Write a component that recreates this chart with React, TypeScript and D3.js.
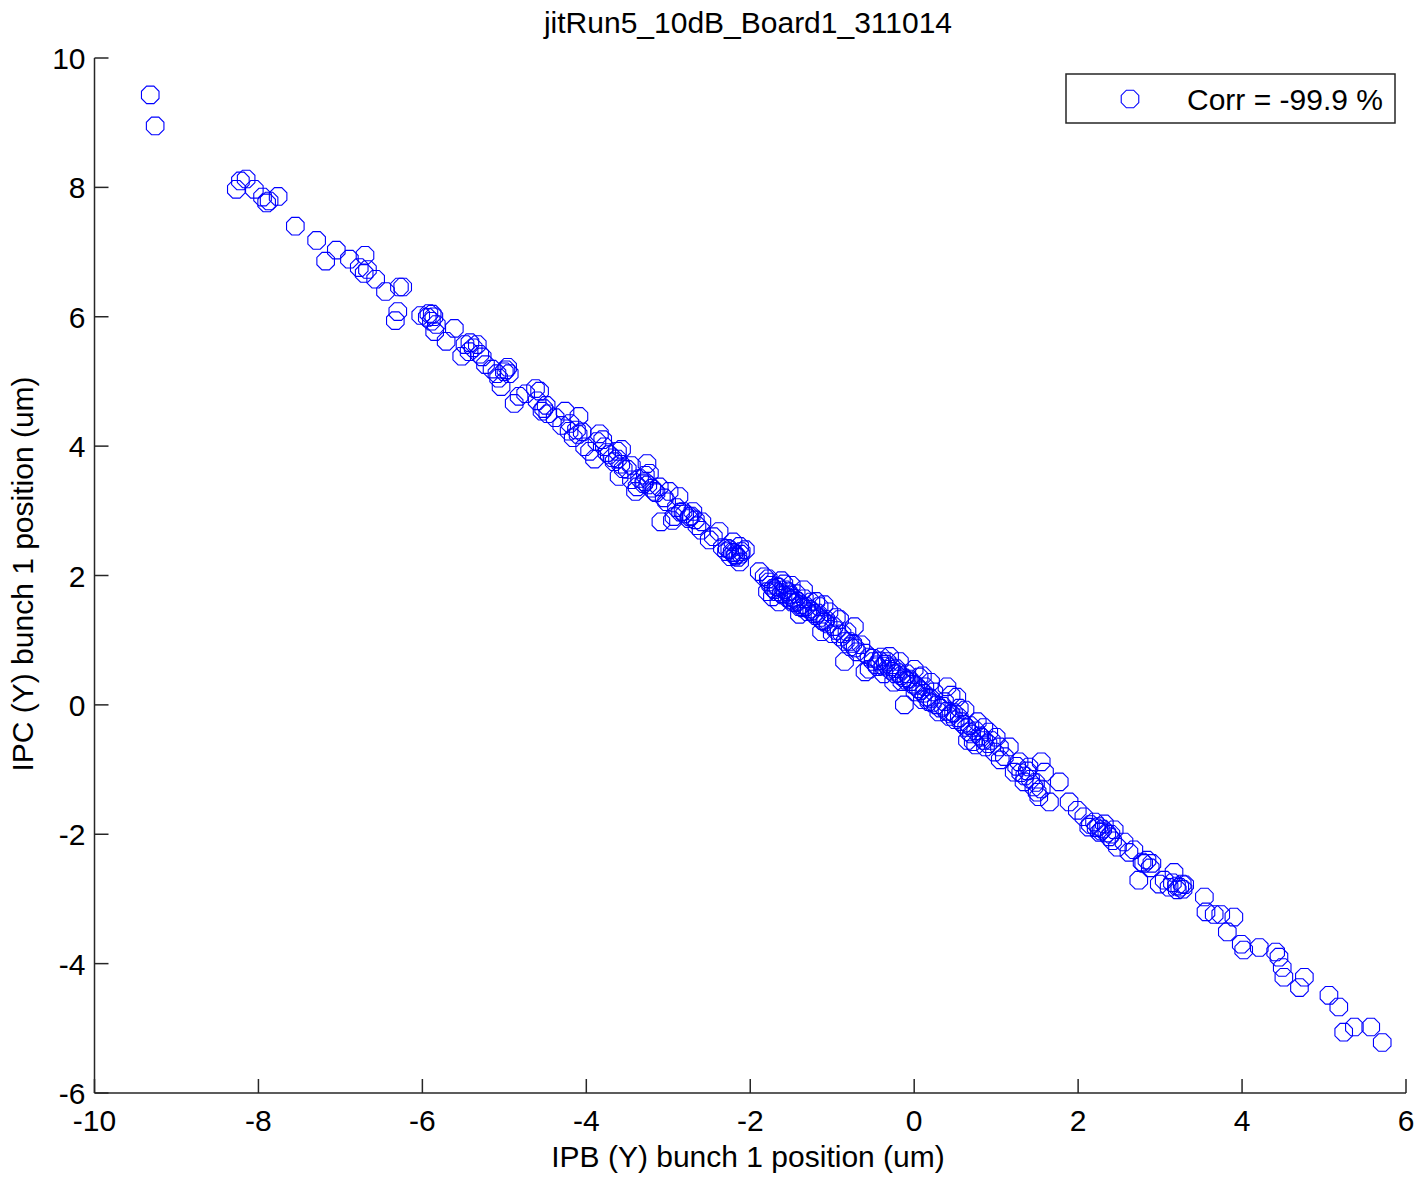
import React from "react";
import * as d3 from "d3";

// IPB vs IPC vertical bunch-1 position pairs, in microns: [IPB, IPC]
const bunch1Positions: [number, number][] = [
  [-9.32, 9.43], [-9.26, 8.95],
  [-8.27, 7.97], [-8.22, 8.1], [-8.15, 8.13], [-8.05, 7.97], [-7.95, 7.85], [-7.9, 7.76],
  [-7.87, 7.79], [-7.76, 7.86], [-7.55, 7.4], [-7.29, 7.18], [-7.18, 6.86], [-7.05, 7.03],
  [-6.89, 6.89], [-6.77, 6.76], [-6.7, 6.95], [-6.71, 6.67], [-6.67, 6.73], [-6.57, 6.58],
  [-6.45, 6.39], [-6.33, 5.94], [-6.3, 6.08], [-6.28, 6.46], [-6.24, 6.46],
  [-6.02, 6.02], [-5.94, 5.99], [-5.89, 5.93], [-5.85, 5.77], [-5.88, 6.04], [-5.92, 6.05],
  [-5.86, 6.0], [-5.83, 5.88], [-5.71, 5.62], [-5.61, 5.82], [-5.52, 5.39], [-5.48, 5.57],
  [-5.43, 5.46], [-5.33, 5.57], [-5.38, 5.52], [-5.3, 5.42], [-5.27, 5.38], [-5.42, 5.6],
  [-5.23, 5.26], [-5.15, 5.19], [-5.09, 5.12], [-5.04, 4.92], [-4.96, 5.22], [-4.94, 5.12],
  [-5.0, 5.15], [-5.07, 5.05], [-4.98, 5.18], [-4.88, 4.66], [-4.82, 4.77], [-4.74, 4.81],
  [-4.62, 4.89], [-4.57, 4.85], [-4.54, 4.54], [-4.49, 4.63], [-4.6, 4.7], [-4.52, 4.58],
  [-4.47, 4.5], [-4.38, 4.44], [-4.3, 4.32], [-4.26, 4.54], [-4.21, 4.23], [-4.16, 4.13],
  [-4.09, 4.46], [-4.2, 4.35], [-4.12, 4.25], [-4.1, 4.18], [-4.05, 4.22], [-4.02, 3.99],
  [-3.96, 3.92], [-3.87, 4.07], [-3.84, 4.19], [-3.78, 3.99], [-3.72, 3.87], [-3.66, 3.76],
  [-3.62, 3.92], [-3.57, 3.95], [-3.6, 3.53], [-3.75, 3.9], [-3.68, 3.82], [-3.62, 3.8],
  [-3.58, 3.72], [-3.55, 3.65], [-3.5, 3.64], [-3.45, 3.48], [-3.38, 3.37], [-3.29, 3.45],
  [-3.26, 3.73], [-3.23, 3.58], [-3.17, 3.3], [-3.11, 3.37], [-3.09, 2.83], [-3.35, 3.5],
  [-3.3, 3.42], [-3.25, 3.4], [-3.2, 3.35], [-3.28, 3.55], [-3.15, 3.28], [-3.02, 3.14],
  [-2.99, 3.3], [-2.93, 2.91], [-2.87, 3.22], [-2.82, 2.99], [-2.74, 2.91], [-2.7, 2.99],
  [-2.67, 2.86], [-2.65, 2.77], [-2.59, 2.83], [-2.9, 3.05], [-2.85, 2.98], [-2.8, 2.95],
  [-2.75, 2.88], [-2.72, 2.92], [-2.5, 2.55], [-2.38, 2.68], [-2.34, 2.43], [-2.29, 2.37],
  [-2.24, 2.29], [-2.21, 2.52], [-2.18, 2.32], [-2.13, 2.21], [-2.11, 2.37], [-2.06, 2.4],
  [-2.13, 2.45], [-2.25, 2.4], [-2.2, 2.35], [-2.18, 2.3], [-2.15, 2.28], [-2.22, 2.36],
  [-2.12, 2.33], [-2.28, 2.42],
  [-3.9, 3.8], [-3.8, 4.1], [-3.45, 3.7], [-3.4, 3.3], [-3.05, 3.2], [-2.95, 2.85],
  [-2.6, 2.7], [-2.45, 2.6],
  [-1.89, 2.06], [-1.83, 1.98], [-1.79, 1.75], [-1.77, 1.9], [-1.73, 1.67], [-1.68, 1.83],
  [-1.65, 1.59], [-1.59, 1.87], [-1.54, 1.75], [-1.49, 1.59], [-1.44, 1.72], [-1.4, 1.52],
  [-1.34, 1.64], [-1.3, 1.44], [-1.26, 1.59], [-1.22, 1.41], [-1.16, 1.52], [-1.13, 1.13],
  [-1.09, 1.28], [-1.04, 1.44], [-0.98, 1.21], [-0.91, 1.32], [-0.85, 0.67], [-0.82, 1.13],
  [-0.79, 0.98], [-0.73, 1.21], [-0.7, 0.82], [-0.65, 0.93], [-0.6, 0.51], [-0.55, 0.74],
  [-1.75, 1.85], [-1.72, 1.8], [-1.7, 1.78], [-1.68, 1.75], [-1.66, 1.82], [-1.62, 1.72],
  [-1.6, 1.7], [-1.58, 1.78], [-1.55, 1.66], [-1.52, 1.7], [-1.5, 1.62], [-1.47, 1.65],
  [-1.45, 1.58], [-1.42, 1.6], [-1.38, 1.55], [-1.36, 1.5], [-1.32, 1.52], [-1.28, 1.48],
  [-1.25, 1.45], [-1.2, 1.38], [-1.18, 1.42], [-1.15, 1.35], [-1.12, 1.3], [-1.08, 1.32],
  [-1.05, 1.25], [-0.95, 1.15], [-0.9, 1.05], [-0.88, 1.1], [-0.84, 0.98], [-0.78, 0.9],
  [-0.75, 0.95], [-0.72, 0.88],
  [-1.78, 1.95], [-1.62, 1.92], [-1.5, 1.85], [-1.35, 1.78], [-1.4, 1.4], [-1.2, 1.6],
  [-1.1, 1.55], [-1.0, 1.1], [-0.95, 1.35], [-0.6, 0.8], [-0.55, 0.55], [-0.3, 0.75],
  [-0.25, 0.35], [0.0, 0.55], [0.1, 0.45], [0.2, 0.35], [0.45, 0.15], [0.55, -0.05],
  [0.65, -0.55], [0.75, -0.62], [0.85, -0.35], [1.0, -0.5], [1.05, -0.85],
  [-0.5, 0.67], [-0.45, 0.59], [-0.4, 0.74], [-0.37, 0.48], [-0.33, 0.67], [-0.28, 0.59],
  [-0.23, 0.48], [-0.18, 0.67], [-0.15, 0.36], [-0.12, 0.0], [-0.09, 0.48], [-0.04, 0.36],
  [0.01, 0.2], [0.06, 0.43], [0.1, 0.08], [0.13, 0.28], [0.18, 0.05], [0.24, 0.2],
  [0.3, -0.11], [0.37, 0.05], [0.4, 0.28], [0.45, -0.14], [0.5, -0.23], [0.52, 0.12],
  [0.57, -0.26], [0.62, -0.08], [0.67, -0.42], [0.72, -0.57], [0.77, -0.26], [0.82, -0.5],
  [0.87, -0.65], [0.91, -0.42], [0.98, -0.73], [1.04, -0.65], [1.1, -0.8], [1.16, -0.65],
  [-0.5, 0.72], [-0.46, 0.62], [-0.42, 0.68], [-0.38, 0.6], [-0.35, 0.63], [-0.3, 0.55],
  [-0.27, 0.52], [-0.22, 0.56], [-0.2, 0.5], [-0.16, 0.45], [-0.12, 0.42], [-0.1, 0.38],
  [-0.06, 0.4], [-0.02, 0.32], [0.02, 0.3], [0.05, 0.25], [0.08, 0.22], [0.12, 0.18],
  [0.15, 0.12], [0.2, 0.1], [0.22, 0.03], [0.27, 0.0], [0.32, -0.05], [0.35, -0.02],
  [0.4, -0.1], [0.43, -0.18], [0.48, -0.12], [0.55, -0.2], [0.6, -0.3], [0.64, -0.35],
  [0.68, -0.32], [0.7, -0.45], [0.75, -0.4], [0.8, -0.48], [0.85, -0.55], [0.9, -0.6],
  [0.94, -0.55],
  [1.22, -1.04], [1.28, -0.88], [1.34, -1.19], [1.4, -0.96], [1.46, -1.27], [1.52, -1.42],
  [1.55, -0.88], [1.59, -1.04], [1.65, -1.5], [1.77, -1.19], [1.89, -1.5], [1.99, -1.63],
  [1.25, -0.95], [1.3, -1.05], [1.35, -1.1], [1.38, -1.02], [1.42, -1.15], [1.48, -1.2],
  [1.5, -1.35], [1.55, -1.3],
  [2.07, -1.73], [2.13, -1.89], [2.2, -1.81], [2.26, -1.97], [2.32, -1.84], [2.38, -2.04],
  [2.44, -1.93], [2.48, -2.2], [2.56, -2.12], [2.62, -2.28], [2.68, -2.24], [2.74, -2.71],
  [2.78, -2.43], [2.84, -2.4], [2.15, -1.85], [2.22, -1.9], [2.25, -1.88], [2.28, -1.95],
  [2.3, -1.92], [2.35, -1.98], [2.4, -2.0], [2.42, -2.1], [2.8, -2.45], [2.88, -2.52],
  [2.9, -2.45],
  [2.99, -2.77], [3.05, -2.71], [3.11, -2.82], [3.17, -2.59], [3.21, -2.86], [3.27, -2.77],
  [3.15, -2.75], [3.2, -2.8], [3.24, -2.82], [3.28, -2.85], [3.3, -2.78],
  [3.54, -2.97], [3.56, -3.2], [3.66, -3.24], [3.74, -3.24], [3.82, -3.51], [3.9, -3.28],
  [3.99, -3.7], [4.02, -3.79], [4.21, -3.75], [4.41, -3.82], [4.45, -3.9], [4.49, -4.06],
  [4.51, -4.21], [4.7, -4.37], [4.76, -4.21], [5.06, -4.49], [5.18, -4.67], [5.24, -5.06],
  [5.37, -4.98], [5.57, -4.98], [5.71, -5.22],
];

const xTicks = [-10, -8, -6, -4, -2, 0, 2, 4, 6];
const yTicks = [-6, -4, -2, 0, 2, 4, 6, 8, 10];

const titleText = "jitRun5_10dB_Board1_311014";
const xLabelText = "IPB (Y) bunch 1 position (um)";
const yLabelText = "IPC (Y) bunch 1 position (um)";
const legendText = "Corr = -99.9 %";

const W = 1422;
const H = 1182;
const plot = { left: 94.5, right: 1406, top: 58, bottom: 1093 };
const FONT = "'Liberation Sans', Arial, Helvetica, sans-serif";
const FONT_SIZE = 30;
const AXIS_COLOR = "#262626";
const MARKER_COLOR = "#0000ff";
const TICK_LEN = 14;
const MARKER_R = 9.5;

// Octagon outline centred on (0,0), like the plotting tool's 'o' marker
const octagon = (r: number) => {
  const pts = d3.range(8).map((i) => {
    const a = Math.PI / 8 + (i * Math.PI) / 4;
    return [r * Math.cos(a), r * Math.sin(a)] as [number, number];
  });
  return "M" + pts.map((p) => p.join(",")).join("L") + "Z";
};

export default function App() {
  const x = d3.scaleLinear().domain([-10, 6]).range([plot.left, plot.right]);
  const y = d3.scaleLinear().domain([-6, 10]).range([plot.bottom, plot.top]);
  const marker = octagon(MARKER_R);

  return (
    <div style={{ position: "absolute", left: 0, top: 0 }}>
      <svg width={W} height={H} style={{ display: "block", background: "#fff" }} fontFamily={FONT}>
        <rect x={0} y={0} width={W} height={H} fill="#fff" />

        {/* scatter markers */}
        <g fill="none" stroke={MARKER_COLOR} strokeWidth={1.1}>
          {bunch1Positions.map(([px, py], i) => (
            <path key={i} d={marker} transform={`translate(${x(px)},${y(py)})`} />
          ))}
        </g>

        {/* axes: left and bottom only, ticks pointing inward */}
        <g stroke={AXIS_COLOR} strokeWidth={1.5}>
          <line x1={plot.left} x2={plot.left} y1={plot.top} y2={plot.bottom} />
          <line x1={plot.left} x2={plot.right} y1={plot.bottom} y2={plot.bottom} />
          {xTicks.map((t) => (
            <line key={"xt" + t} x1={x(t)} x2={x(t)} y1={plot.bottom} y2={plot.bottom - TICK_LEN} />
          ))}
          {yTicks.map((t) => (
            <line key={"yt" + t} x1={plot.left} x2={plot.left + TICK_LEN} y1={y(t)} y2={y(t)} />
          ))}
        </g>

        <g fill="#000" fontSize={FONT_SIZE}>
          {xTicks.map((t) => (
            <text key={"xl" + t} x={x(t)} y={plot.bottom + 38} textAnchor="middle">
              {t}
            </text>
          ))}
          {yTicks.map((t) => (
            <text key={"yl" + t} x={plot.left - 9} y={y(t) + 11} textAnchor="end">
              {t}
            </text>
          ))}
        </g>

        <text x={748} y={33} textAnchor="middle" fontSize={FONT_SIZE} fill="#000">
          {titleText}
        </text>
        <text x={748} y={1167} textAnchor="middle" fontSize={FONT_SIZE} fill="#000">
          {xLabelText}
        </text>
        <text
          transform={`translate(33,574) rotate(-90)`}
          textAnchor="middle"
          fontSize={FONT_SIZE}
          fill="#000"
        >
          {yLabelText}
        </text>

        {/* legend */}
        <g>
          <rect x={1066} y={74} width={329} height={49} fill="#fff" stroke={AXIS_COLOR} strokeWidth={1.5} />
          <path d={marker} transform="translate(1130,99)" fill="none" stroke={MARKER_COLOR} strokeWidth={1.1} />
          <text x={1187} y={110} fontSize={FONT_SIZE} fill="#000">
            {legendText}
          </text>
        </g>
      </svg>
    </div>
  );
}
